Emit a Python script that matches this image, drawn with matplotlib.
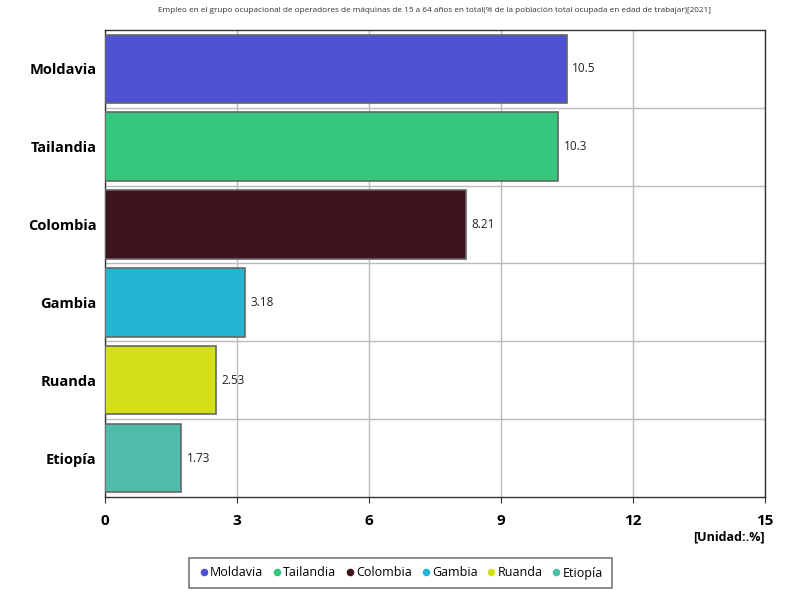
import matplotlib.pyplot as plt
from matplotlib.lines import Line2D

countries = ["Moldavia", "Tailandia", "Colombia", "Gambia", "Ruanda", "Etiopía"]
values = [10.5, 10.3, 8.21, 3.18, 2.53, 1.73]
labels = ["10.5", "10.3", "8.21", "3.18", "2.53", "1.73"]
colors = ["#5052D4", "#36C77F", "#40141C", "#22B6D4", "#D4E017", "#4FBCAA"]

plt.rcParams['font.family'] = ['Open Sans', 'DejaVu Sans']

fig = plt.figure(figsize=(8, 6), dpi=100)
ax = fig.add_axes([0.13125, 0.1717, 0.825, 0.7783])

y = list(range(len(countries)))
ax.barh(y, values, height=0.88, color=colors, edgecolor="#666666", linewidth=1.2, zorder=3)
for yi, v, lab in zip(y, values, labels):
    ax.text(v + 0.12, yi, lab, va="center", ha="left", fontsize=8.5, color="#222222")

ax.set_xlim(0, 15)
ax.set_ylim(len(countries) - 0.5, -0.5)
ax.set_xticks([0, 3, 6, 9, 12, 15])
ax.set_yticks(y)
ax.set_yticklabels(countries, fontsize=10.5, fontweight="bold")
for t in ax.get_xticklabels():
    t.set_fontsize(11)
    t.set_fontweight("bold")
ax.tick_params(axis="y", length=0, pad=6)
ax.tick_params(axis="x", length=4, pad=8, color="#333333")

ax.set_yticks([i + 0.5 for i in range(len(countries) - 1)], minor=True)
ax.grid(axis="x", color="#bbbbbb", linewidth=1, zorder=0)
ax.grid(axis="y", which="minor", color="#bbbbbb", linewidth=1, zorder=0)
ax.grid(axis="y", which="major", visible=False)
ax.tick_params(axis="y", which="minor", length=0)
for s in ax.spines.values():
    s.set_color("#333333")
    s.set_linewidth(1)

fig.text(0.54375, 0.983, "Empleo en el grupo ocupacional de operadores de máquinas de 15 a 64 años en total(% de la población total ocupada en edad de trabajar)[2021]",
         ha="center", va="center", fontsize=5.9, color="#333333")
fig.text(0.956, 0.105, "[Unidad:.%]", ha="right", va="center", fontsize=9, fontweight="bold")

handles = [Line2D([0], [0], marker="o", color="w", markerfacecolor=c, markersize=6.5, label=n)
           for c, n in zip(colors, countries)]
leg = fig.legend(handles=handles, loc="center", bbox_to_anchor=(0.5, 0.045), ncol=6,
                 fontsize=9, frameon=True, fancybox=False, handletextpad=0.0,
                 columnspacing=0.6, handlelength=1.0, borderpad=0.7)
leg.get_frame().set_edgecolor("#555555")
leg.get_frame().set_linewidth(1.2)

fig.savefig("out.png", dpi=100)
